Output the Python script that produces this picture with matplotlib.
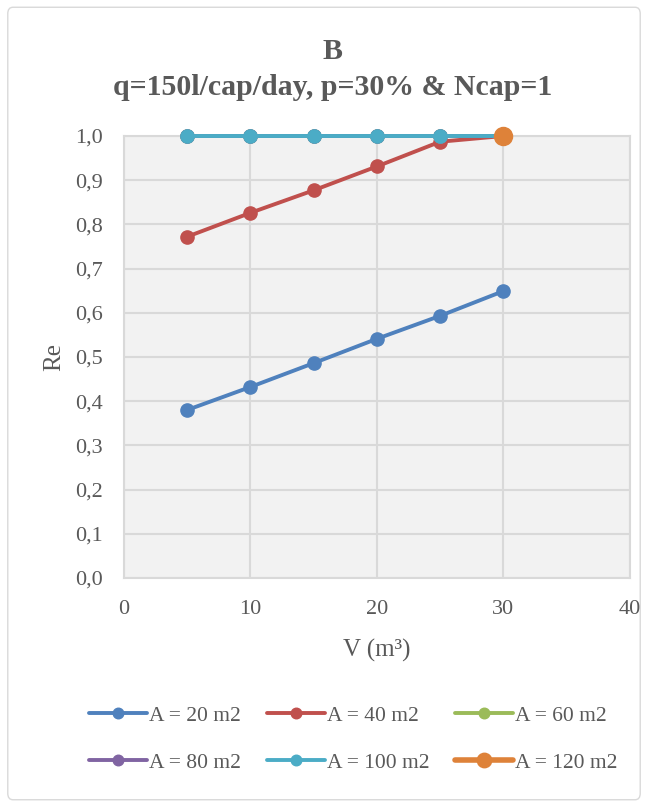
import numpy as np
import matplotlib.pyplot as plt
from matplotlib.patches import FancyBboxPatch

plt.rcParams['font.family'] = ['Liberation Serif', 'DejaVu Serif']

# data
V = [5, 10, 15, 20, 25, 30]
re_20 = [0.380, 0.432, 0.486, 0.541, 0.593, 0.649]
re_40 = [0.772, 0.826, 0.877, 0.931, 0.987, 1.0]
re_60 = [1.0, 1.0, 1.0, 1.0, 1.0, 1.0]
re_80 = [1.0, 1.0, 1.0, 1.0, 1.0, 1.0]
re_100 = [1.0, 1.0, 1.0, 1.0, 1.0, 1.0]
V_120 = [30]
re_120 = [1.0]

labels = ['A = 20 m2', 'A = 40 m2', 'A = 60 m2', 'A = 80 m2', 'A = 100 m2', 'A = 120 m2']
colors = ['#4F81BD', '#C0504D', '#9BBB59', '#8064A2', '#4BACC6', '#DE8239']

txt = '#595959'

fig = plt.figure(figsize=(6.48, 8.07), dpi=100)
border = FancyBboxPatch((0.012, 0.009), 0.976, 0.982, boxstyle='round,pad=0,rounding_size=0.008',
                        transform=fig.transFigure, fc='white', ec='#D9D9D9', lw=1, zorder=-10)
fig.patches.append(border)

ax = fig.add_axes([0.191, 0.2838, 0.781, 0.5477])
ax.set_facecolor('#F2F2F2')

series = [(V, re_20), (V, re_40), (V, re_60), (V, re_80), (V, re_100), (V_120, re_120)]
handles = []
for i, (x, y) in enumerate(series):
    ms = 13 if i == 5 else 9.5
    lw = 4 if i == 5 else 2.8
    h, = ax.plot(x, y, color=colors[i], marker='o', ms=ms, lw=lw, label=labels[i],
                 solid_capstyle='round', clip_on=False, zorder=3)
    handles.append(h)

ax.set_xlim(0, 40)
ax.set_ylim(0, 1.0)
ax.set_xticks(np.arange(0, 41, 10))
ax.set_yticks(np.arange(0, 1.01, 0.1))
ax.set_yticklabels([('%.1f' % v).replace('.', ',') for v in np.arange(0, 1.01, 0.1)])
ax.grid(True, color='#D9D9D9', lw=1.5)
ax.set_axisbelow(True)
for s in ax.spines.values():
    s.set_color('#D9D9D9')
    s.set_linewidth(1.5)
ax.tick_params(length=0, labelsize=16, labelcolor=txt)
ax.tick_params(axis='y', pad=15)
ax.tick_params(axis='x', pad=16)

ax.set_xlabel('V (m³)', fontsize=18, color=txt, labelpad=14)
ax.set_ylabel('Re', fontsize=18, color=txt, labelpad=7)
fig.text(0.513, 0.936, 'B', ha='center', va='center', fontsize=21.5, fontweight='bold', color=txt)
fig.text(0.513, 0.892, 'q=150l/cap/day, p=30% & Ncap=1', ha='center', va='center',
         fontsize=21.5, fontweight='bold', color=txt)

# legend filled row by row like Excel
order = [0, 3, 1, 4, 2, 5]
fig.legend([handles[k] for k in order], [labels[k] for k in order],
           loc='center', bbox_to_anchor=(0.545, 0.084), ncol=3, frameon=False,
           fontsize=15.5, labelcolor=txt, handlelength=2.7, handletextpad=0.1,
           columnspacing=1.2, labelspacing=1.25, markerscale=0.8)

fig.savefig('out.png', dpi=100)
